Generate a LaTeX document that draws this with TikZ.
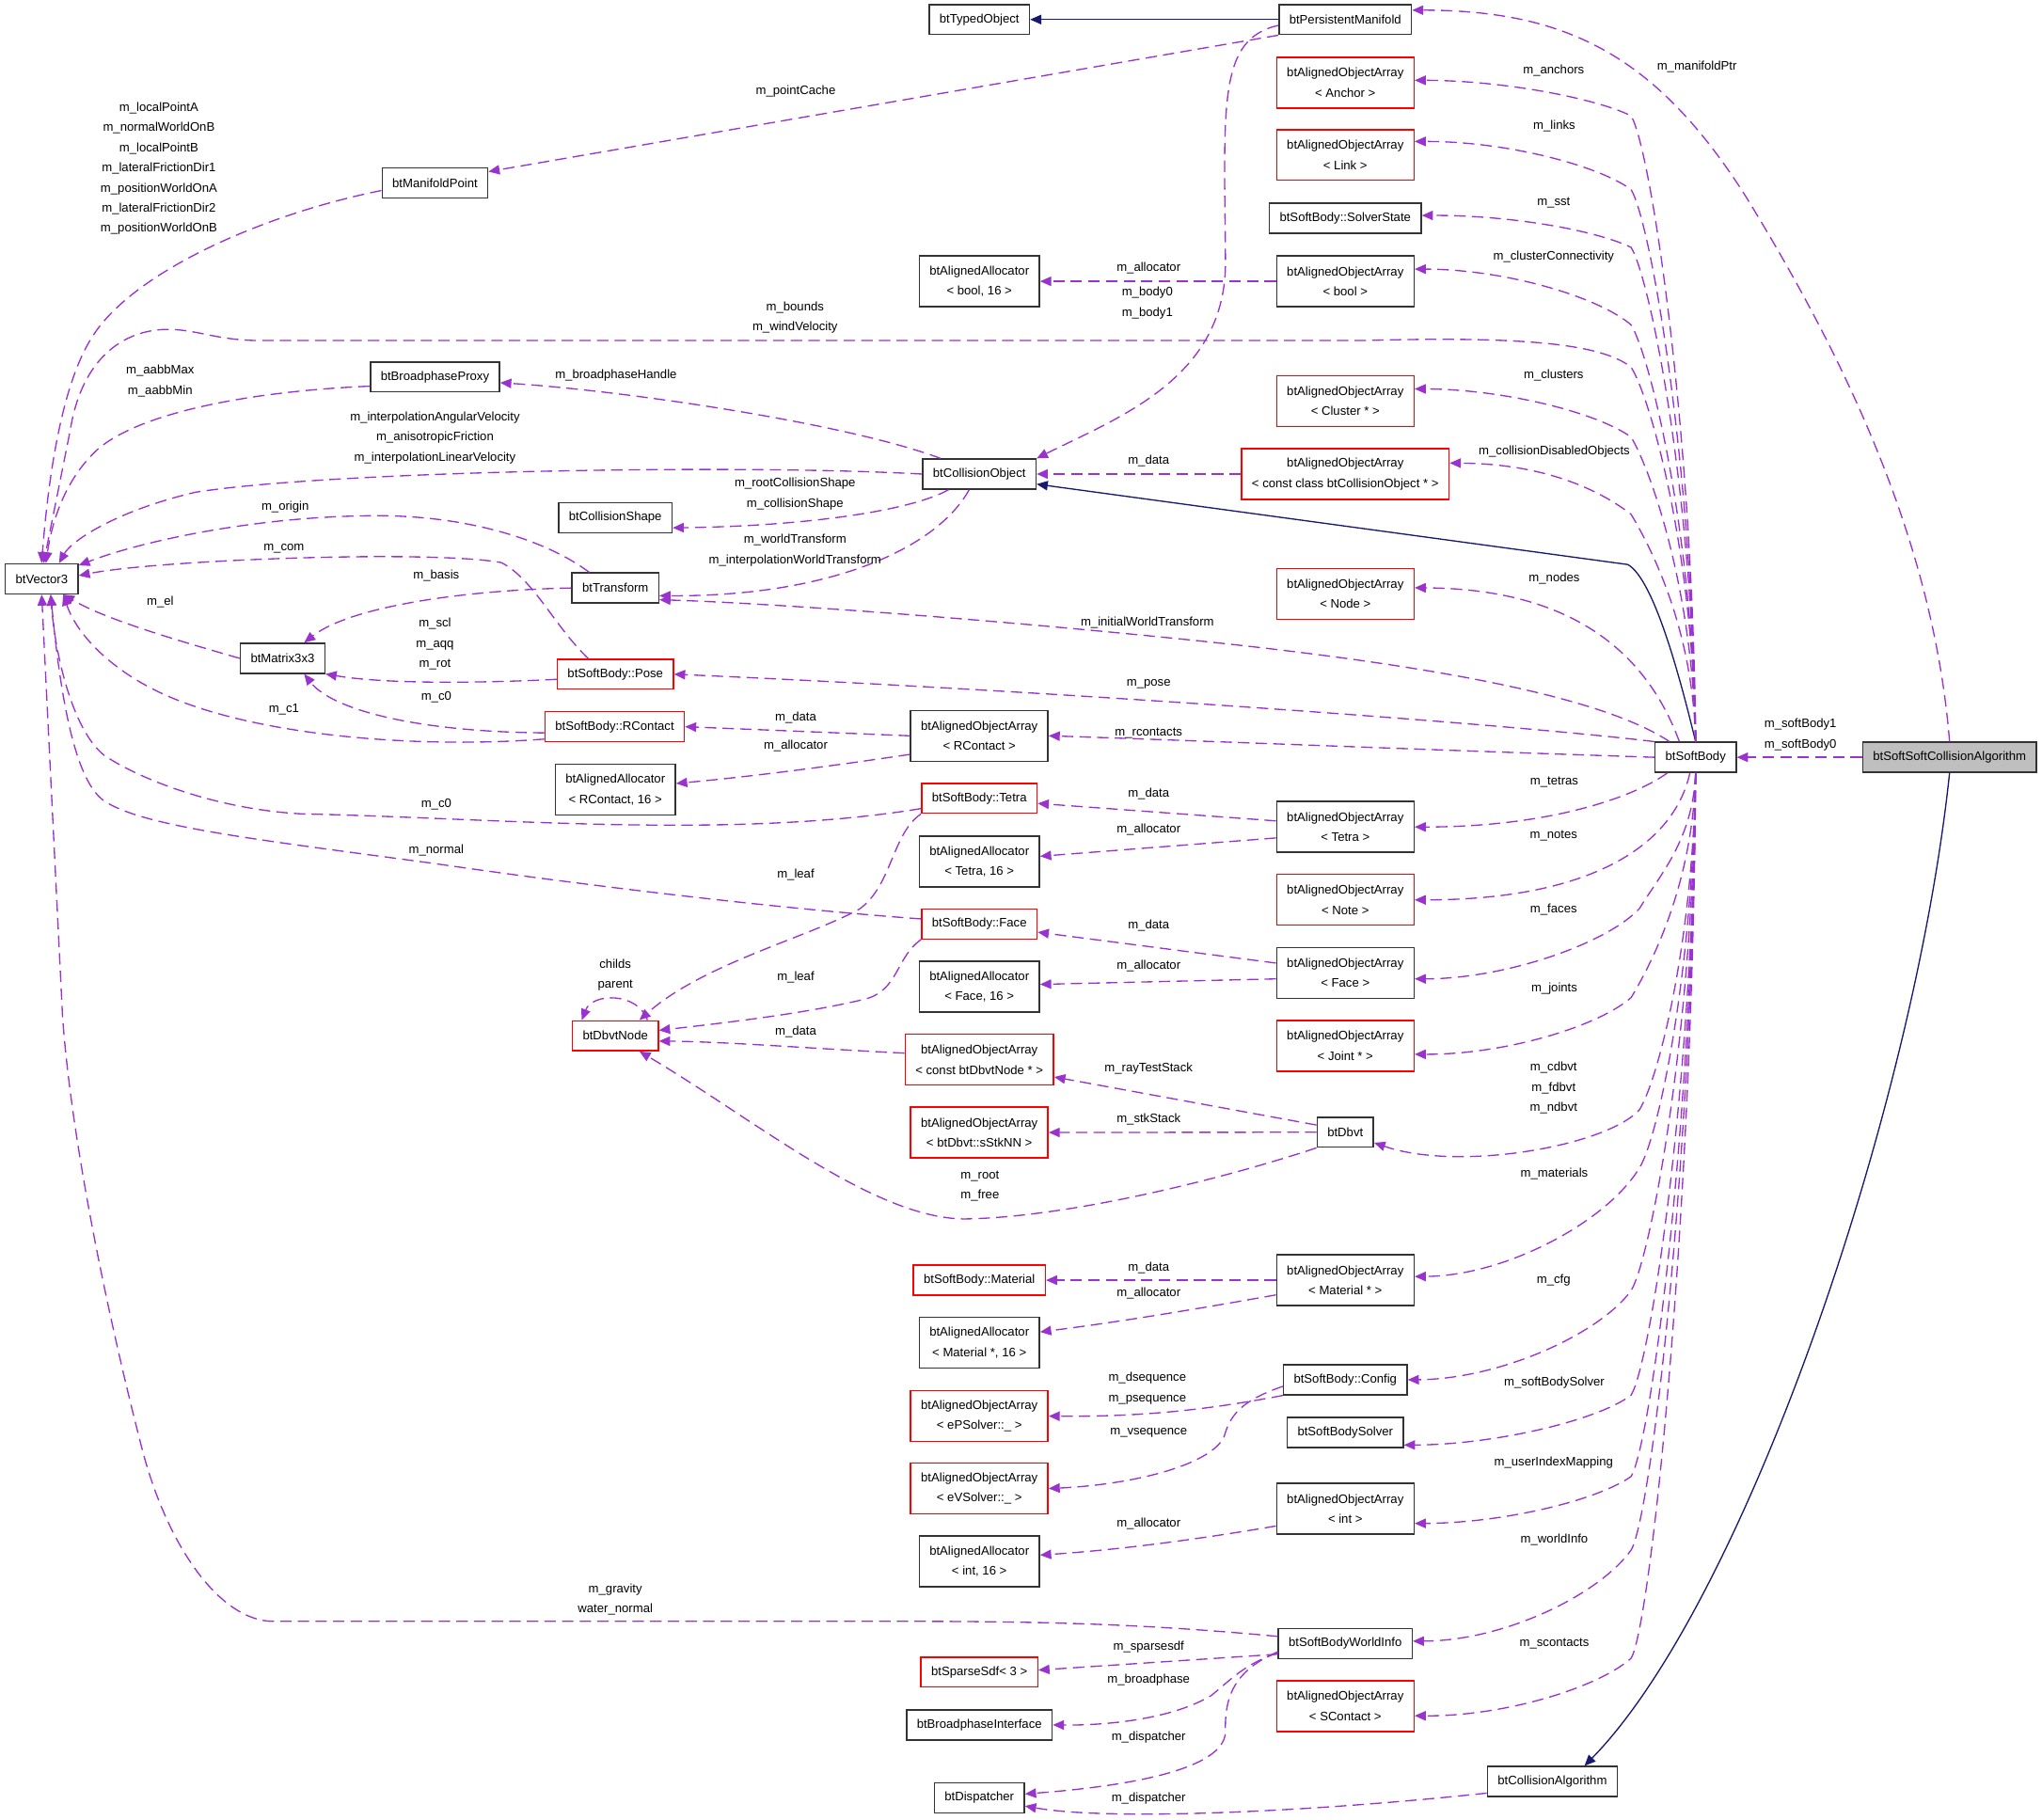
\documentclass[tikz,border=0pt]{standalone}
\usepackage{fontspec}
\setmainfont{Liberation Sans}
\usetikzlibrary{arrows.meta}
\definecolor{usecol}{HTML}{9A32CD}
\definecolor{inhcol}{HTML}{191970}
\definecolor{boxred}{HTML}{FF0000}
\definecolor{boxgray}{HTML}{BFBFBF}

\begin{document}
\begin{tikzpicture}[x=0.02cm, y=-0.02cm,
    font=\fontsize{5.4}{8.8}\selectfont,
    cls/.style={draw=black!80, line width=0.6pt, minimum height=0.46cm, inner xsep=4.5pt, inner ysep=1pt, align=center},
    clsred/.style={cls, draw=boxred},
    twoline/.style={minimum height=0.78cm},
    usage/.style={draw=usecol, line width=0.55pt, dash pattern=on 5pt off 2.7pt, -{Triangle[length=0.17cm, width=0.145cm]}},
    inherit/.style={draw=inhcol, line width=0.55pt, -{Triangle[length=0.17cm, width=0.145cm]}},
    lbl/.style={inner sep=0pt, align=center}]
    \useasboundingbox (0,0) rectangle (1568,1397);

    % Colonne gauche
    \node[cls] (vec) at (32,444.5) {btVector3};
    \node[cls] (mpoint) at (334,140.5) {btManifoldPoint};
    \node[cls] (bproxy) at (334,289.5) {btBroadphaseProxy};
    \node[cls] (mat) at (217,505.5) {btMatrix3x3};

    % Deuxieme colonne
    \node[cls] (cshape) at (472.5,397.5) {btCollisionShape};
    \node[cls] (xform) at (472.5,451.5) {btTransform};
    \node[clsred] (pose) at (472.5,517.7) {btSoftBody::Pose};
    \node[clsred] (rcontact) at (472,558) {btSoftBody::RContact};
    \node[cls, twoline] (allocRC) at (472.5,606.5) {btAlignedAllocator\\< RContact, 16 >};
    \node[clsred] (dnode) at (472.5,795.3) {btDbvtNode};

    % Troisieme colonne
    \node[cls] (typed) at (752,15) {btTypedObject};
    \node[cls, twoline] (allocBool) at (752,216) {btAlignedAllocator\\< bool, 16 >};
    \node[cls] (cobj) at (752,364) {btCollisionObject};
    \node[cls, twoline] (aoaRC) at (752,565) {btAlignedObjectArray\\< RContact >};
    \node[clsred] (tetra) at (752,613) {btSoftBody::Tetra};
    \node[cls, twoline] (allocTetra) at (752,661.6) {btAlignedAllocator\\< Tetra, 16 >};
    \node[clsred] (face) at (752,709.5) {btSoftBody::Face};
    \node[cls, twoline] (allocFace) at (752,757.5) {btAlignedAllocator\\< Face, 16 >};
    \node[clsred, twoline] (aoaDNode) at (752,813.7) {btAlignedObjectArray\\< const btDbvtNode * >};
    \node[clsred, twoline] (aoaStk) at (752,869.6) {btAlignedObjectArray\\< btDbvt::sStkNN >};
    \node[clsred] (material) at (752,983) {btSoftBody::Material};
    \node[cls, twoline] (allocMat) at (752,1031) {btAlignedAllocator\\< Material *, 16 >};
    \node[clsred, twoline] (aoaEP) at (752,1087.4) {btAlignedObjectArray\\< ePSolver::\_ >};
    \node[clsred, twoline] (aoaEV) at (752,1143) {btAlignedObjectArray\\< eVSolver::\_ >};
    \node[cls, twoline] (allocInt) at (752,1199) {btAlignedAllocator\\< int, 16 >};
    \node[clsred] (sdf) at (752,1284) {btSparseSdf< 3 >};
    \node[cls] (bpi) at (752,1324.5) {btBroadphaseInterface};
    \node[cls] (disp) at (752,1380.6) {btDispatcher};

    % Quatrieme colonne
    \node[cls] (pmani) at (1033,15) {btPersistentManifold};
    \node[clsred, twoline] (aoaAnchor) at (1033,63.5) {btAlignedObjectArray\\< Anchor >};
    \node[clsred, twoline] (aoaLink) at (1033,119) {btAlignedObjectArray\\< Link >};
    \node[cls] (solverState) at (1033,167.5) {btSoftBody::SolverState};
    \node[cls, twoline] (aoaBool) at (1033,216) {btAlignedObjectArray\\< bool >};
    \node[clsred, twoline] (aoaCluster) at (1033,308) {btAlignedObjectArray\\< Cluster * >};
    \node[clsred, twoline] (aoaCObj) at (1033,364) {btAlignedObjectArray\\< const class btCollisionObject * >};
    \node[clsred, twoline] (aoaNode) at (1033,456) {btAlignedObjectArray\\< Node >};
    \node[cls, twoline] (aoaTetra) at (1033,635) {btAlignedObjectArray\\< Tetra >};
    \node[clsred, twoline] (aoaNote) at (1033,691) {btAlignedObjectArray\\< Note >};
    \node[cls, twoline] (aoaFace) at (1033,747) {btAlignedObjectArray\\< Face >};
    \node[clsred, twoline] (aoaJoint) at (1033,803) {btAlignedObjectArray\\< Joint * >};
    \node[cls] (dbvt) at (1033,869.4) {btDbvt};
    \node[cls, twoline] (aoaMat) at (1033,983) {btAlignedObjectArray\\< Material * >};
    \node[cls] (config) at (1033,1059.5) {btSoftBody::Config};
    \node[cls] (sbsolver) at (1033,1100) {btSoftBodySolver};
    \node[cls, twoline] (aoaInt) at (1033,1158.5) {btAlignedObjectArray\\< int >};
    \node[cls] (winfo) at (1033,1262) {btSoftBodyWorldInfo};
    \node[clsred, twoline] (aoaSC) at (1033,1310) {btAlignedObjectArray\\< SContact >};

    % Droite
    \node[cls] (sbody) at (1302,581.5) {btSoftBody};
    \node[cls, fill=boxgray] (ssca) at (1497,581.5) {btSoftSoftCollisionAlgorithm};
    \node[cls] (calgo) at (1192,1368) {btCollisionAlgorithm};

    % Heritage
    \draw[inherit] (pmani.west) -- (typed.east);
    \draw[inherit] (sbody.north) .. controls (1290,520) and (1270,445) .. (1250,433.5) -- (cobj.-10);
    \draw[inherit] (ssca.south) .. controls (1470,850) and (1340,1230) .. (calgo.26);

    % btSoftSoftCollisionAlgorithm
    \draw[usage] (ssca.west) -- (sbody.east);
    \draw[usage] (ssca.north) .. controls (1485,420) and (1420,280) .. (1340,150) .. controls (1270,40) and (1200,8) .. (pmani.8);

    % btPersistentManifold
    \draw[usage] (pmani.south west) -- (mpoint.12);
    \draw[usage] (pmani.-175) .. controls (935,30) and (940,80) .. (941,200) .. controls (942,290) and (860,320) .. (cobj.north east);

    % btCollisionObject
    \draw[usage] (cobj.158) .. controls (650,325) and (480,300) .. (bproxy.-5);
    \draw[usage] (cobj.west) .. controls (560,356) and (250,362) .. (150,378) .. controls (90,392) and (55,415) .. (vec.42);
    \draw[usage] (cobj.-153) .. controls (700,392) and (620,404) .. (cshape.-10);
    \draw[usage] (cobj.-123) .. controls (720,420) and (640,458) .. (xform.-10);

    % vers btVector3 et btMatrix3x3
    \draw[usage] (mpoint.-172) .. controls (200,165) and (100,210) .. (70,260) .. controls (45,300) and (36,380) .. (vec.north);
    \draw[usage] (bproxy.-172) .. controls (200,300) and (110,315) .. (75,345) .. controls (50,368) and (40,400) .. (vec.75);
    \draw[usage] (xform.149) .. controls (420,415) and (360,396) .. (290,396) .. controls (200,396) and (110,415) .. (vec.20);
    \draw[usage] (xform.west) .. controls (360,453) and (270,465) .. (mat.36);
    \draw[usage] (mat.west) .. controls (130,490) and (80,475) .. (vec.-36);
    \draw[usage] (pose.150) .. controls (425,480) and (410,445) .. (385,432) .. controls (330,422) and (120,430) .. (vec.5);
    \draw[usage] (pose.-175) .. controls (380,524) and (300,526) .. (mat.south east);
    \draw[usage] (rcontact.-175) .. controls (320,562) and (255,545) .. (mat.-36);
    \draw[usage] (rcontact.-170) .. controls (320,575) and (200,565) .. (130,535) .. controls (90,518) and (60,490) .. (vec.-36);
    \draw[usage] (tetra.-170) .. controls (560,645) and (380,628) .. (233,625) .. controls (170,622) and (110,600) .. (80,580) .. controls (55,560) and (42,500) .. (vec.-60);
    \draw[usage] (face.175) .. controls (600,698) and (450,680) .. (333,663) .. controls (200,645) and (110,635) .. (80,615) .. controls (55,598) and (45,520) .. (vec.-60);

    % btDbvtNode
    \draw[usage] (tetra.south west) .. controls (685,640) and (685,680) .. (660,698) .. controls (620,720) and (540,740) .. (dnode.33);
    \draw[usage] (face.south west) .. controls (688,735) and (690,760) .. (665,767) .. controls (620,778) and (560,785) .. (dnode.7);
    \draw[usage] (aoaDNode.175) .. controls (620,805) and (560,800) .. (dnode.-7);
    \draw[usage] (dnode.26) .. controls (490,762) and (455,762) .. (dnode.155);

    % Tableaux et allocateurs
    \draw[usage] (aoaRC.west) -- (rcontact.east);
    \draw[usage] (aoaRC.-165) .. controls (640,588) and (580,596) .. (allocRC.6);
    \draw[usage] (aoaBool.west) -- (allocBool.east);
    \draw[usage] (aoaCObj.west) -- (cobj.east);
    \draw[usage] (aoaTetra.175) -- (tetra.-5);
    \draw[usage] (aoaTetra.-171) -- (allocTetra.5);
    \draw[usage] (aoaFace.172) -- (face.-8);
    \draw[usage] (aoaFace.-175) -- (allocFace.2);
    \draw[usage] (aoaMat.west) -- (material.east);
    \draw[usage] (aoaMat.-168) .. controls (920,1005) and (860,1015) .. (allocMat.10);
    \draw[usage] (aoaInt.-166) .. controls (920,1182) and (860,1190) .. (allocInt.6);

    % btDbvt
    \draw[usage] (dbvt.166) -- (aoaDNode.-13);
    \draw[usage] (dbvt.west) -- (aoaStk.east);
    \draw[usage] (dbvt.south west) .. controls (940,905) and (820,935) .. (740,936) .. controls (670,935) and (580,860) .. (dnode.-33);

    % btSoftBody::Config
    \draw[usage] (config.south west) .. controls (930,1082) and (880,1088) .. (aoaEP.east);
    \draw[usage] (config.-174) .. controls (955,1075) and (945,1085) .. (940,1103) .. controls (930,1125) and (870,1140) .. (aoaEV.east);

    % btSoftBodyWorldInfo et btCollisionAlgorithm
    \draw[usage] (winfo.174) .. controls (880,1247) and (800,1245) .. (700,1245) -- (210,1245) .. controls (170,1245) and (130,1190) .. (110,1116) .. controls (85,1020) and (55,880) .. (48,780) -- (vec.south);
    \draw[usage] (winfo.-171) -- (sdf.2);
    \draw[usage] (winfo.-172) .. controls (955,1278) and (945,1290) .. (930,1302) .. controls (900,1320) and (850,1325) .. (bpi.east);
    \draw[usage] (winfo.-173) .. controls (950,1282) and (940,1300) .. (941,1330) .. controls (940,1360) and (860,1372) .. (disp.5);
    \draw[usage] (calgo.-170) .. controls (1000,1392) and (850,1398) .. (disp.-10);

    % btSoftBody vers la gauche
    \draw[usage] (sbody.149) .. controls (1230,535) and (1100,510) .. (900,490) .. controls (700,470) and (560,462) .. (xform.-15);
    \draw[usage] (sbody.north west) .. controls (1150,555) and (800,530) .. (pose.east);
    \draw[usage] (sbody.west) .. controls (1100,576) and (900,568) .. (aoaRC.east);
    \draw[usage] (sbody.north) .. controls (1300,420) and (1267,305) .. (1252.5,282) .. controls (1230,264) and (1170,258) .. (1046,261.5) -- (200,261.5) .. controls (165,261.5) and (150,252) .. (125,253) .. controls (90,255) and (62,280) .. (54,330) -- (vec.83);

    % btSoftBody vers le haut
    \draw[usage] (sbody.north) .. controls (1300,329.5) and (1267.5,114) .. (1252.5,89) .. controls (1227.5,76.2) and (1156,61.8) .. (aoaAnchor.2);
    \draw[usage] (sbody.north) .. controls (1300,358) and (1267.5,170.6) .. (1252.5,145.6) .. controls (1227.5,127) and (1156,108.4) .. (aoaLink.11);
    \draw[usage] (sbody.north) .. controls (1300,380) and (1267.5,215) .. (1252.5,190) .. controls (1227.5,177.6) and (1162.5,165.2) .. (solverState.2);
    \draw[usage] (sbody.north) .. controls (1300,409.8) and (1267.5,274.5) .. (1252.5,249.5) .. controls (1227.5,228) and (1156,206.8) .. (aoaBool.10);
    \draw[usage] (sbody.north) .. controls (1300,452.9) and (1267.5,360.7) .. (1252.5,335.7) .. controls (1227.5,317.3) and (1156,298.9) .. (aoaCluster.10);
    \draw[usage] (sbody.north) .. controls (1300,482.5) and (1267.5,420) .. (1252.5,395) .. controls (1227.5,375.5) and (1184.5,356) .. (aoaCObj.6);
    \draw[usage] (sbody.136) .. controls (1262,495) and (1200,452) .. (aoaNode.5);

    % btSoftBody vers le bas
    \draw[usage] (sbody.-151) .. controls (1255,612) and (1190,635) .. (aoaTetra.east);
    \draw[usage] (sbody.-110) .. controls (1285,650) and (1220,691) .. (aoaNote.east);
    \draw[usage] (sbody.south) .. controls (1300,645) and (1274,672.5) .. (1259,697.5) .. controls (1234,724.5) and (1156,751.6) .. (aoaFace.-5);
    \draw[usage] (sbody.south) .. controls (1300,679.5) and (1267.5,741) .. (1252.5,766) .. controls (1227.5,788) and (1156,809.8) .. (aoaJoint.-7);
    \draw[usage] (sbody.south) .. controls (1300,722.5) and (1274,827) .. (1259,852) .. controls (1234,880) and (1120,900) .. (dbvt.-20);
    \draw[usage] (sbody.south) .. controls (1300,744.8) and (1274,871.6) .. (1259,896.6) .. controls (1234,938.2) and (1156,979.8) .. (aoaMat.3);
    \draw[usage] (sbody.south) .. controls (1300,792) and (1267.5,966) .. (1252.5,991) .. controls (1227.5,1025) and (1151,1058.9) .. (config.east);
    \draw[usage] (sbody.south) .. controls (1300,832) and (1267.5,1046.3) .. (1252.5,1071.3) .. controls (1227.5,1090.4) and (1148,1109.4) .. (sbsolver.-12);
    \draw[usage] (sbody.south) .. controls (1300,863) and (1267.5,1108.7) .. (1252.5,1133.7) .. controls (1227.5,1151.6) and (1156,1169.4) .. (aoaInt.-12);
    \draw[usage] (sbody.south) .. controls (1300,891.6) and (1267.5,1165.2) .. (1252.5,1190.2) .. controls (1227.5,1225) and (1154.5,1260) .. (winfo.2);
    \draw[usage] (sbody.south) .. controls (1300,933) and (1267.5,1248.3) .. (1252.5,1273.3) .. controls (1227.5,1295.6) and (1156,1317.9) .. (aoaSC.-8);

    % Etiquettes
    \node[lbl] (lLocal) at (122,129.5) {m\_localPointA\\m\_normalWorldOnB\\m\_localPointB\\m\_lateralFrictionDir1\\m\_positionWorldOnA\\m\_lateralFrictionDir2\\m\_positionWorldOnB};
    \node[lbl] (lPointCache) at (611,70) {m\_pointCache};
    \node[lbl] (lManifoldPtr) at (1303,51) {m\_manifoldPtr};
    \node[lbl] (lAnchors) at (1193,54) {m\_anchors};
    \node[lbl] (lLinks) at (1193.5,97) {m\_links};
    \node[lbl] (lSst) at (1193,155.7) {m\_sst};
    \node[lbl] (lClusterConn) at (1193,197) {m\_clusterConnectivity};
    \node[lbl] (lAllocBool) at (882,205.6) {m\_allocator};
    \node[lbl] (lBody) at (881,232.5) {m\_body0\\m\_body1};
    \node[lbl] (lBounds) at (610.5,244) {m\_bounds\\m\_windVelocity};
    \node[lbl] (lClusters) at (1193,288.5) {m\_clusters};
    \node[lbl] (lAabb) at (123,292.5) {m\_aabbMax\\m\_aabbMin};
    \node[lbl] (lBHandle) at (473,288.5) {m\_broadphaseHandle};
    \node[lbl] (lInterp) at (334,336) {m\_interpolationAngularVelocity\\m\_anisotropicFriction\\m\_interpolationLinearVelocity};
    \node[lbl] (lCollDis) at (1193.5,347) {m\_collisionDisabledObjects};
    \node[lbl] (lDataCObj) at (882,354) {m\_data};
    \node[lbl] (lCShape) at (610.5,379.2) {m\_rootCollisionShape\\m\_collisionShape};
    \node[lbl] (lOrigin) at (219,389) {m\_origin};
    \node[lbl] (lWTrans) at (610.5,422.5) {m\_worldTransform\\m\_interpolationWorldTransform};
    \node[lbl] (lCom) at (218,421) {m\_com};
    \node[lbl] (lBasis) at (335,442) {m\_basis};
    \node[lbl] (lNodes) at (1193.5,444) {m\_nodes};
    \node[lbl] (lEl) at (123,462.6) {m\_el};
    \node[lbl] (lIWT) at (881,478.3) {m\_initialWorldTransform};
    \node[lbl] (lScl) at (334,494.6) {m\_scl\\m\_aqq\\m\_rot};
    \node[lbl] (lPose) at (882,525.5) {m\_pose};
    \node[lbl] (lC0a) at (335,535) {m\_c0};
    \node[lbl] (lC1) at (218,545) {m\_c1};
    \node[lbl] (lDataRC) at (611,550.8) {m\_data};
    \node[lbl] (lRContacts) at (882,563) {m\_rcontacts};
    \node[lbl] (lSoftBody) at (1382.5,564) {m\_softBody1\\m\_softBody0};
    \node[lbl] (lAllocRC) at (611,572.5) {m\_allocator};
    \node[lbl] (lTetras) at (1193.5,600.4) {m\_tetras};
    \node[lbl] (lDataTetra) at (882,609.9) {m\_data};
    \node[lbl] (lC0b) at (335,618) {m\_c0};
    \node[lbl] (lAllocTetra) at (882,637.2) {m\_allocator};
    \node[lbl] (lNotes) at (1193,641.7) {m\_notes};
    \node[lbl] (lNormal) at (335,652.7) {m\_normal};
    \node[lbl] (lLeafTetra) at (611,672) {m\_leaf};
    \node[lbl] (lFaces) at (1193,698.7) {m\_faces};
    \node[lbl] (lDataFace) at (882,710.9) {m\_data};
    \node[lbl] (lChilds) at (472.5,748.8) {childs\\parent};
    \node[lbl] (lAllocFace) at (882,742) {m\_allocator};
    \node[lbl] (lLeafFace) at (611,750.7) {m\_leaf};
    \node[lbl] (lJoints) at (1193.5,759.3) {m\_joints};
    \node[lbl] (lDataDNode) at (611,792) {m\_data};
    \node[lbl] (lRayTest) at (882,820.5) {m\_rayTestStack};
    \node[lbl] (lDbvt) at (1193,835.3) {m\_cdbvt\\m\_fdbvt\\m\_ndbvt};
    \node[lbl] (lStk) at (882,859.8) {m\_stkStack};
    \node[lbl] (lMaterials) at (1193.5,901.4) {m\_materials};
    \node[lbl] (lRoot) at (752.5,910.6) {m\_root\\m\_free};
    \node[lbl] (lDataMat) at (882,973.3) {m\_data};
    \node[lbl] (lCfg) at (1193,982.8) {m\_cfg};
    \node[lbl] (lAllocMat) at (882,992.9) {m\_allocator};
    \node[lbl] (lSeq) at (881,1066) {m\_dsequence\\m\_psequence};
    \node[lbl] (lSBSolver) at (1193.5,1062.1) {m\_softBodySolver};
    \node[lbl] (lVSeq) at (882,1099.9) {m\_vsequence};
    \node[lbl] (lUIM) at (1193,1123.3) {m\_userIndexMapping};
    \node[lbl] (lAllocInt) at (882,1170) {m\_allocator};
    \node[lbl] (lWorldInfo) at (1193.5,1182.5) {m\_worldInfo};
    \node[lbl] (lGravity) at (472.5,1228) {m\_gravity\\water\_normal};
    \node[lbl] (lScontacts) at (1193.5,1261.8) {m\_scontacts};
    \node[lbl] (lSdf) at (882,1265) {m\_sparsesdf};
    \node[lbl] (lBroadphase) at (882,1289.7) {m\_broadphase};
    \node[lbl] (lDispWI) at (882,1334.3) {m\_dispatcher};
    \node[lbl] (lDispCA) at (882,1381.2) {m\_dispatcher};
\end{tikzpicture}
\end{document}
